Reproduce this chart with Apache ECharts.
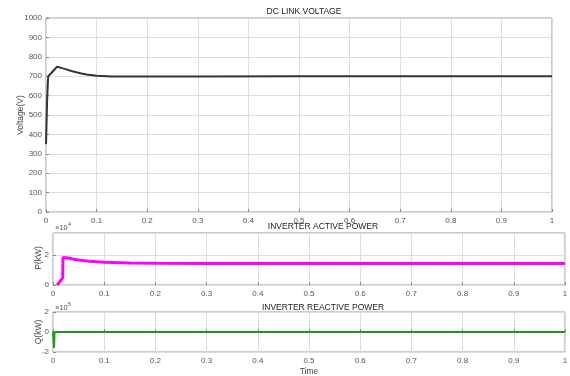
<!DOCTYPE html>
<html><head><meta charset="utf-8">
<script src="https://cdn.jsdelivr.net/npm/echarts@6/dist/echarts.min.js"></script>
<style>html,body{margin:0;padding:0;background:#fff}#c{width:570px;height:376px}</style>
</head><body><div id="c"></div>
<script>
// DC link voltage (V)
var voltTime = [0, 0.001, 0.002, 0.0035, 0.0045, 0.01, 0.016, 0.022, 0.03, 0.04, 0.05, 0.06, 0.07, 0.08, 0.1, 0.13, 0.16, 0.2, 0.3, 0.5, 0.7, 1.0];
var voltVals = [350, 450, 560, 660, 700, 715, 732, 749, 743, 735, 727, 720, 714, 709, 702, 699, 698, 698, 699, 700, 700, 700];
// Inverter active power (x10^4 kW)
var pTime = [0.008, 0.014, 0.019, 0.0195, 0.021, 0.03, 0.04, 0.05, 0.07, 0.1, 0.15, 0.2, 0.3, 0.5, 0.7, 1.0];
var pVals = [0, 0.25, 0.5, 1.85, 1.9, 1.82, 1.74, 1.68, 1.6, 1.53, 1.48, 1.46, 1.45, 1.45, 1.45, 1.45];
// Inverter reactive power (x10^5 kW)
var qTime = [0, 0.001, 0.002, 0.0025, 0.003, 0.004, 0.5, 1.0];
var qVals = [0, -0.6, -1.6, -1.0, 0, 0, 0, 0];
var xTicks = [0, 0.1, 0.2, 0.3, 0.4, 0.5, 0.6, 0.7, 0.8, 0.9, 1];
var titles = ['DC LINK VOLTAGE', 'INVERTER ACTIVE POWER', 'INVERTER REACTIVE POWER'];
var yNames = ['Voltage(V)', 'P(kW)', 'Q(kW)'];

function zip(a, b) { return a.map(function (v, i) { return [v, b[i]]; }); }
var FONT = 'Liberation Sans';
var lblColor = '#555';
function plain(v) { return String(Math.round(v * 100) / 100); }
function xAx(i) {
  return {
    type: 'value', gridIndex: i, min: xTicks[0], max: xTicks[xTicks.length - 1], interval: 0.1,
    axisLine: { show: false },
    axisTick: { inside: true, length: 3, lineStyle: { color: '#888' } },
    axisLabel: { color: lblColor, fontSize: 8, fontFamily: FONT, margin: 5, formatter: plain },
    splitLine: { lineStyle: { color: '#dcdcdc', width: 1 } },
    name: i === 2 ? 'Time' : '', nameLocation: 'middle', nameGap: 15,
    nameTextStyle: { color: '#444', fontSize: 8.5, fontFamily: FONT }
  };
}
function yAx(i, min, max, interval) {
  return {
    type: 'value', gridIndex: i, min: min, max: max, interval: interval,
    axisLine: { show: false },
    axisTick: { inside: true, length: 3, lineStyle: { color: '#888' } },
    axisLabel: { color: lblColor, fontSize: 8, fontFamily: FONT, margin: 4, showMaxLabel: i !== 1, formatter: plain },
    splitLine: { lineStyle: { color: '#dcdcdc', width: 1 } }
  };
}
function yName(text, x, y) {
  return { type: 'text', x: x, y: y, rotation: Math.PI / 2,
    style: { text: text, fontSize: 8.5, fill: '#444', fontFamily: FONT, align: 'center', verticalAlign: 'middle' } };
}
var gridBase = { show: true, borderColor: '#999', borderWidth: 1, backgroundColor: 'transparent', containLabel: false, outerBoundsMode: 'none' };
function g(o) { return Object.assign({}, gridBase, o); }
var chart = echarts.init(document.getElementById('c'), null, { renderer: 'canvas' });
chart.setOption({
  animation: false,
  backgroundColor: '#fff',
  title: [
    { text: titles[0], left: 299, top: 2, textAlign: 'center', textStyle: { fontSize: 8.5, fontWeight: 'normal', color: '#222', fontFamily: FONT } },
    { text: titles[1], left: 318, top: 217, textAlign: 'center', textStyle: { fontSize: 8.5, fontWeight: 'normal', color: '#222', fontFamily: FONT } },
    { text: titles[2], left: 318, top: 298, textAlign: 'center', textStyle: { fontSize: 8.5, fontWeight: 'normal', color: '#222', fontFamily: FONT } }
  ],
  grid: [
    g({ left: 46, top: 18, width: 506, height: 194 }),
    g({ left: 53, top: 233, width: 512, height: 52 }),
    g({ left: 53, top: 312, width: 512, height: 40 })
  ],
  xAxis: [xAx(0), xAx(1), xAx(2)],
  yAxis: [
    yAx(0, 0, 1000, 100),
    yAx(1, 0, 3.5, 2),
    yAx(2, -2, 2, 2)
  ],
  graphic: [
    yName(yNames[0], 21, 115),
    yName(yNames[1], 39, 258),
    yName(yNames[2], 39, 332),
    { type: 'text', left: 55, top: 224, style: { text: '×10', fontSize: 7.5, fill: '#555', fontFamily: FONT } },
    { type: 'text', left: 68, top: 221, style: { text: '4', fontSize: 5.5, fill: '#555', fontFamily: FONT } },
    { type: 'text', left: 55, top: 304, style: { text: '×10', fontSize: 7.5, fill: '#555', fontFamily: FONT } },
    { type: 'text', left: 68, top: 301, style: { text: '5', fontSize: 5.5, fill: '#555', fontFamily: FONT } }
  ],
  series: [
    { type: 'line', xAxisIndex: 0, yAxisIndex: 0, data: zip(voltTime, voltVals), showSymbol: false, smooth: false, lineStyle: { color: '#333', width: 2 } },
    { type: 'line', xAxisIndex: 1, yAxisIndex: 1, data: zip(pTime, pVals), showSymbol: false, lineStyle: { color: '#ff00ff', width: 3 } },
    { type: 'line', xAxisIndex: 2, yAxisIndex: 2, data: zip(qTime, qVals), showSymbol: false, lineStyle: { color: '#1c9a1c', width: 2 } }
  ]
});
</script></body></html>
